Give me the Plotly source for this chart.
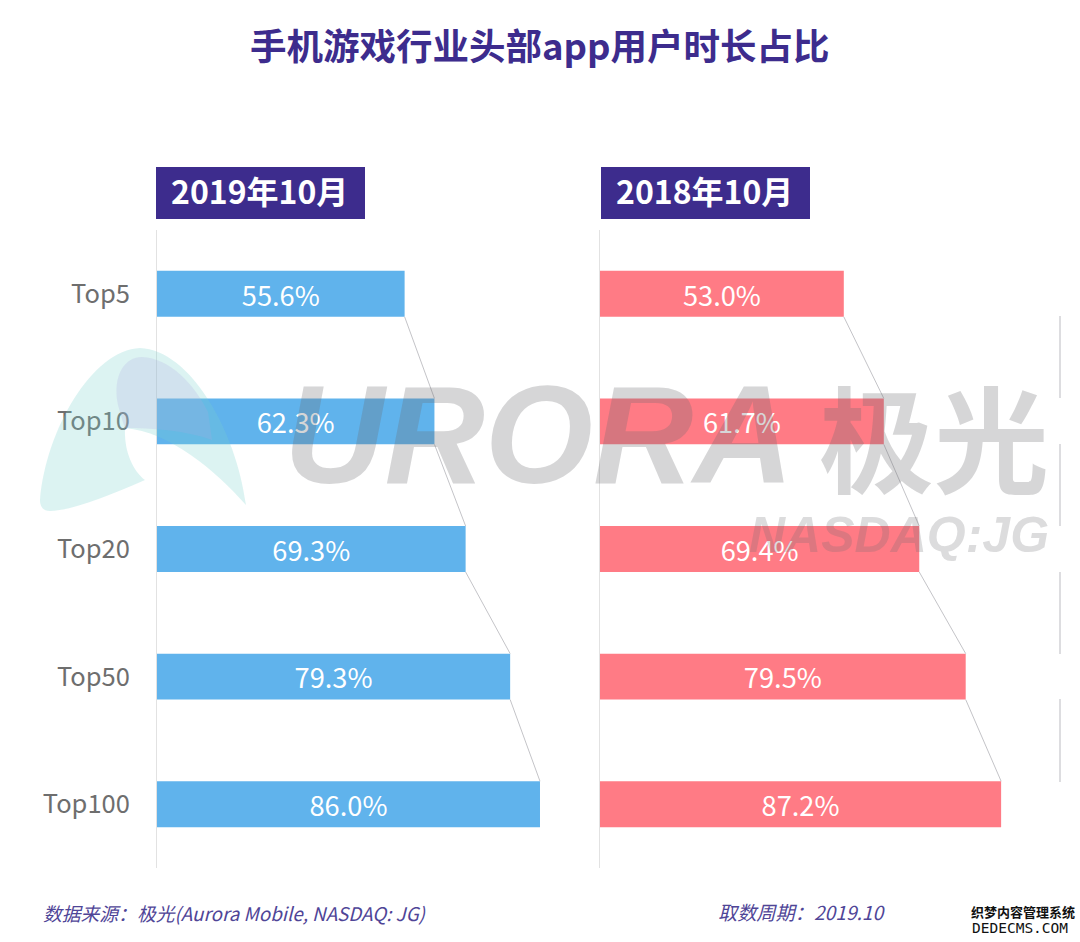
import plotly.graph_objects as go

W, H = 1080, 942

categories = ["Top5", "Top10", "Top20", "Top50", "Top100"]
values_2019 = [55.6, 62.3, 69.3, 79.3, 86.0]
values_2018 = [53.0, 61.7, 69.4, 79.5, 87.2]
panel_titles = ["2019年10月", "2018年10月"]

CJK = "Noto Sans CJK SC"
INDIGO = "#3d2c8d"
BLUE = "#60b3ec"
RED = "#ff7b85"
BAR_W = 0.36
MARK = "rgba(108,108,112,0.28)"


def px(x):
    return x / W


def py(y):
    return 1 - y / H


def path(cmds):
    # cmds: letter + pixel points, converted to paper coordinates
    out = []
    for c in cmds:
        if isinstance(c, str):
            out.append(c)
        else:
            out.append(f"{px(c[0]):.5f},{py(c[1]):.5f}")
    return " ".join(out)


def rect(x0, y0, x1, y1, color, layer="below"):
    return dict(type="rect", xref="paper", yref="paper", x0=px(x0), x1=px(x1),
                y0=py(y0), y1=py(y1), fillcolor=color, line_width=0, layer=layer)


def note(x, y, text, size, color, anchor="left", family=CJK, **kw):
    return dict(xref="paper", yref="paper", x=px(x), y=py(y), text=text, showarrow=False,
                xanchor=anchor, yanchor="middle", font=dict(size=size, color=color, family=family), **kw)


def connector(values):
    xs, ys = [], []
    for i in range(len(values) - 1):
        xs += [values[i], values[i + 1], None]
        ys += [i + BAR_W / 2, i + 1 - BAR_W / 2, None]
    return xs, ys


fig = go.Figure()
panels = [(values_2019, BLUE, "x", "y"), (values_2018, RED, "x2", "y2")]
for vals, color, xa, ya in panels:
    cx, cy = connector(vals)
    fig.add_trace(go.Scatter(x=cx, y=cy, mode="lines", line=dict(color="#c4c4c8", width=1),
                             xaxis=xa, yaxis=ya, showlegend=False, hoverinfo="skip"))
    fig.add_trace(go.Bar(x=vals, y=list(range(len(vals))), orientation="h", width=BAR_W,
                         marker=dict(color=color, line_width=0),
                         text=[f"{v:.1f}%" for v in vals], textposition="inside",
                         insidetextanchor="middle", textangle=0,
                         insidetextfont=dict(size=30, color="white", family=CJK),
                         xaxis=xa, yaxis=ya, showlegend=False))

shapes = [
    rect(156, 167, 365, 219, INDIGO),
    rect(601, 167, 810, 219, INDIGO),
    # logo in the watermark
    dict(type="path", xref="paper", yref="paper", layer="above", line_width=0,
         fillcolor="rgba(120,210,205,0.26)",
         path=path(["M", (40, 500), "C", (46, 430), (92, 350), (140, 348), "C", (190, 350), (236, 430), (246, 505),
                    "C", (215, 470), (170, 432), (125, 428), "C", (124, 450), (132, 470), (145, 480),
                    "C", (110, 495), (75, 510), (50, 511), "C", (42, 511), (40, 505), (40, 500), "Z"])),
    dict(type="path", xref="paper", yref="paper", layer="above", line_width=0,
         fillcolor="rgba(175,170,225,0.22)",
         path=path(["M", (118, 405), "C", (112, 375), (125, 357), (142, 357), "C", (170, 358), (195, 385), (208, 412),
                    "L", (212, 440), "C", (185, 430), (150, 428), (125, 428), "C", (122, 420), (120, 412), (118, 405), "Z"])),
]
# broken rule at the right edge
for y0, y1 in [(316, 398), (444, 526), (572, 654), (699, 782)]:
    shapes.append(dict(type="line", xref="paper", yref="paper", x0=px(1060), x1=px(1060), y0=py(y0), y1=py(y1),
                       line=dict(color="#d2d2d6", width=1.5), layer="below"))

annotations = [
    note(540, 45, "<b>手机游戏行业头部app用户时长占比</b>", 36.5, INDIGO, "center"),
    note(259, 190, f"<b>{panel_titles[0]}</b>", 32, "white", "center"),
    note(704, 190, f"<b>{panel_titles[1]}</b>", 32, "white", "center"),
    note(40.5, 912, "<i>数据来源：极光(Aurora Mobile, NASDAQ: JG)</i>", 18.8, "#4f4597"),
    note(715.5, 912, "<i>取数周期：2019.10</i>", 19.2, "#4f4597"),
    note(969, 911, "<b>织梦内容管理系统</b>", 13, "#111111"),
    note(970, 928, "DEDECMS.COM", 14.5, "#111111", family="DejaVu Sans Mono"),
    # watermark
    note(282, 434, "<b><i>URORA</i></b>", 139, MARK, family="Liberation Sans"),
    note(817, 434, "<b>极光</b>", 115, MARK),
    note(747, 535, "<b><i>NASDAQ:JG</i></b>", 50, "rgba(108,108,112,0.24)", family="Liberation Sans"),
]

x_common = dict(range=[0, 90], visible=False, fixedrange=True)
y_common = dict(range=[4.5, -0.5], showgrid=False, zeroline=False, showline=True,
                linecolor="#e2e2e2", linewidth=1, fixedrange=True)

fig.update_layout(
    width=W, height=H, margin=dict(l=0, r=0, t=0, b=0),
    paper_bgcolor="white", plot_bgcolor="white", showlegend=False,
    barmode="overlay",
    xaxis=dict(domain=[px(157), px(557.8)], anchor="y", **x_common),
    xaxis2=dict(domain=[px(600), px(1014)], anchor="y2", **x_common),
    yaxis=dict(domain=[py(868), py(230)], anchor="x", tickmode="array",
               tickvals=list(range(len(categories))), ticktext=categories,
               ticks="", ticklabelstandoff=21,
               tickfont=dict(size=25.5, color="#6e6e6e", family=CJK), **y_common),
    yaxis2=dict(domain=[py(868), py(230)], anchor="x2", showticklabels=False, ticks="", **y_common),
    shapes=shapes, annotations=annotations,
)

fig.write_html("out.html", post_script="document.body.style.margin='0';",
               config=dict(displayModeBar=False))
